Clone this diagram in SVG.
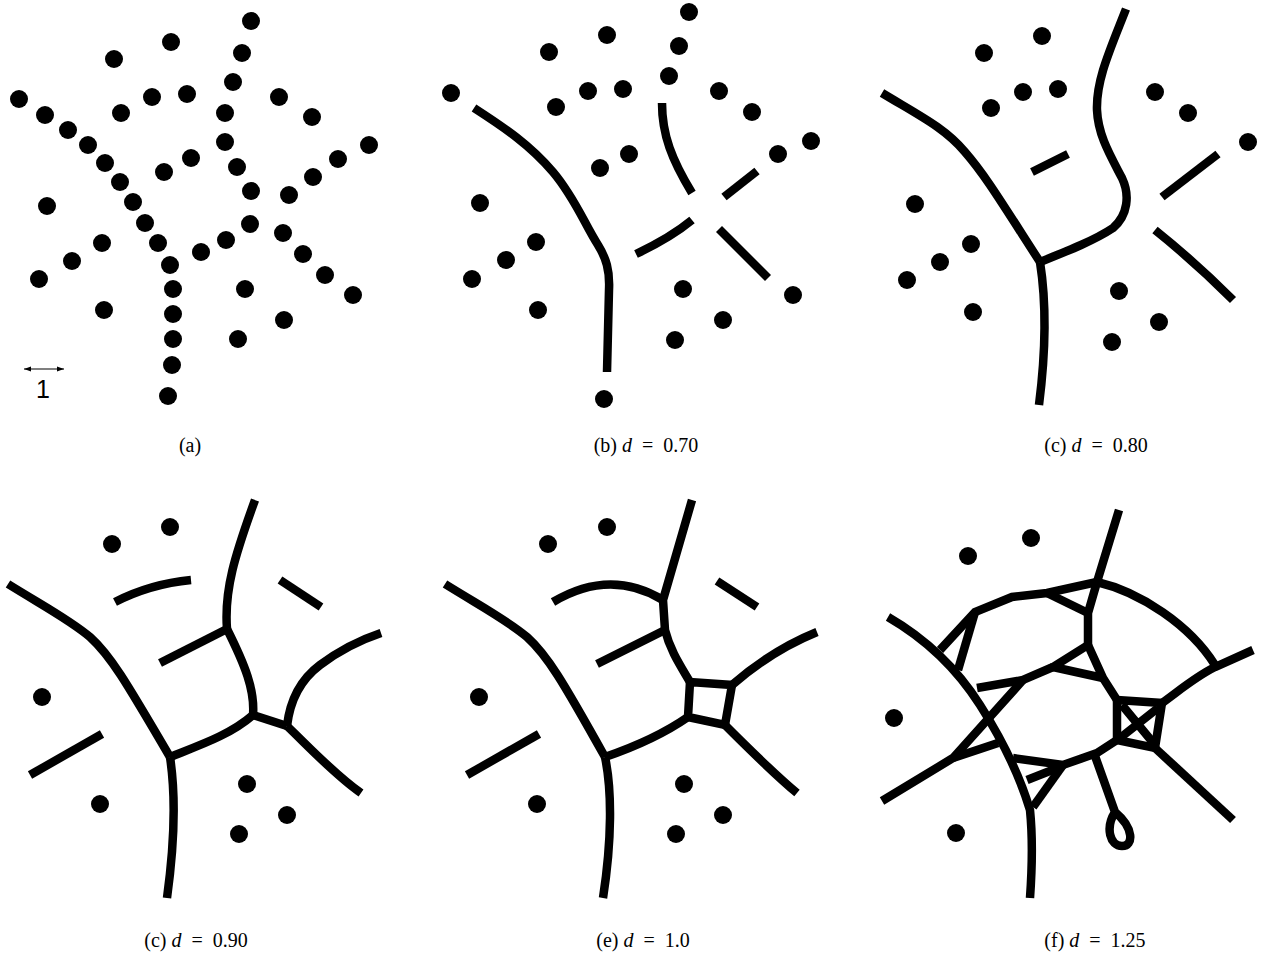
<svg xmlns="http://www.w3.org/2000/svg" width="1265" height="956" viewBox="0 0 1265 956">
<style>
.dot{fill:#000}
.e{fill:none;stroke:#000;stroke-width:8.5;stroke-linejoin:miter}
.cap{font-family:"Liberation Serif","Times New Roman",serif;font-size:20px;fill:#000}
.it{font-style:italic}
</style>
<defs>
<marker id="ah" viewBox="0 0 10 10" refX="10" refY="5" markerWidth="7" markerHeight="7" orient="auto-start-reverse" markerUnits="userSpaceOnUse"><path d="M0,1.5 L10,5 L0,8.5 Z" fill="#000"/></marker>
</defs>
<rect width="1265" height="956" fill="#fff"/>

<g id="panel-a">
<g class="dot">
<circle cx="251" cy="21" r="9"/><circle cx="171" cy="42" r="9"/><circle cx="114" cy="59" r="9"/><circle cx="242" cy="53" r="9"/><circle cx="233" cy="82" r="9"/>
<circle cx="19" cy="99" r="9"/><circle cx="152" cy="97" r="9"/><circle cx="187" cy="94" r="9"/><circle cx="279" cy="97" r="9"/><circle cx="45" cy="115" r="9"/>
<circle cx="121" cy="113" r="9"/><circle cx="225" cy="113" r="9"/><circle cx="312" cy="117" r="9"/><circle cx="68" cy="130" r="9"/><circle cx="88" cy="145" r="9"/>
<circle cx="225" cy="142" r="9"/><circle cx="369" cy="145" r="9"/><circle cx="191" cy="158" r="9"/><circle cx="338" cy="159" r="9"/><circle cx="105" cy="163" r="9"/>
<circle cx="164" cy="172" r="9"/><circle cx="237" cy="167" r="9"/><circle cx="120" cy="182" r="9"/><circle cx="313" cy="177" r="9"/><circle cx="251" cy="191" r="9"/>
<circle cx="289" cy="195" r="9"/><circle cx="47" cy="206" r="9"/><circle cx="133" cy="202" r="9"/><circle cx="145" cy="223" r="9"/><circle cx="250" cy="224" r="9"/>
<circle cx="283" cy="233" r="9"/><circle cx="226" cy="240" r="9"/><circle cx="102" cy="243" r="9"/><circle cx="158" cy="243" r="9"/><circle cx="201" cy="252" r="9"/>
<circle cx="303" cy="254" r="9"/><circle cx="72" cy="261" r="9"/><circle cx="170" cy="265" r="9"/><circle cx="39" cy="279" r="9"/><circle cx="325" cy="275" r="9"/>
<circle cx="173" cy="289" r="9"/><circle cx="245" cy="289" r="9"/><circle cx="353" cy="295" r="9"/><circle cx="104" cy="310" r="9"/><circle cx="173" cy="314" r="9"/>
<circle cx="284" cy="320" r="9"/><circle cx="173" cy="339" r="9"/><circle cx="238" cy="339" r="9"/><circle cx="172" cy="365" r="9"/><circle cx="168" cy="396" r="9"/>
</g>
<line x1="24" y1="369" x2="64" y2="369" stroke="#000" stroke-width="1.2" marker-start="url(#ah)" marker-end="url(#ah)"/>
<text x="43" y="398" text-anchor="middle" font-family="Liberation Sans, Arial, sans-serif" font-size="25">1</text>
<text class="cap" x="190" y="452" text-anchor="middle">(a)</text>
</g>

<g id="panel-b">
<g class="dot">
<circle cx="689" cy="12" r="9"/><circle cx="607" cy="35" r="9"/><circle cx="549" cy="52" r="9"/><circle cx="679" cy="46" r="9"/><circle cx="669" cy="76" r="9"/>
<circle cx="451" cy="93" r="9"/><circle cx="588" cy="91" r="9"/><circle cx="623" cy="89" r="9"/><circle cx="719" cy="91" r="9"/><circle cx="556" cy="107" r="9"/>
<circle cx="752" cy="112" r="9"/><circle cx="811" cy="141" r="9"/><circle cx="778" cy="154" r="9"/><circle cx="629" cy="154" r="9"/><circle cx="600" cy="168" r="9"/>
<circle cx="480" cy="203" r="9"/><circle cx="536" cy="242" r="9"/><circle cx="506" cy="260" r="9"/><circle cx="472" cy="279" r="9"/><circle cx="538" cy="310" r="9"/>
<circle cx="683" cy="289" r="9"/><circle cx="793" cy="295" r="9"/><circle cx="723" cy="320" r="9"/><circle cx="675" cy="340" r="9"/><circle cx="604" cy="399" r="9"/>
</g>
<path class="e" d="M474,108 C505,128 530,145 553,172 C575,198 585,225 598,245 C606,258 610,270 609,290 L607,372"/>
<path class="e" d="M662,103 C662,135 672,160 692,193"/>
<path class="e" d="M724,197 L757,171"/>
<path class="e" d="M636,254 C655,245 675,234 692,220"/>
<path class="e" d="M719,229 L768,278"/>
<text class="cap" x="646" y="452" text-anchor="middle" xml:space="preserve">(b) <tspan class="it">d</tspan>  =  0.70</text>
</g>

<g id="panel-c1">
<g class="dot">
<circle cx="1042" cy="36" r="9"/><circle cx="984" cy="53" r="9"/><circle cx="1023" cy="92" r="9"/><circle cx="1058" cy="89" r="9"/><circle cx="991" cy="108" r="9"/>
<circle cx="1155" cy="92" r="9"/><circle cx="1188" cy="113" r="9"/><circle cx="1248" cy="142" r="9"/><circle cx="915" cy="204" r="9"/><circle cx="971" cy="244" r="9"/>
<circle cx="940" cy="262" r="9"/><circle cx="907" cy="280" r="9"/><circle cx="973" cy="312" r="9"/><circle cx="1119" cy="291" r="9"/><circle cx="1159" cy="322" r="9"/>
<circle cx="1112" cy="342" r="9"/>
</g>
<path class="e" d="M882,93 C920,116 945,128 965,152 C985,175 1000,200 1040,262"/>
<path class="e" d="M1040,262 C1046,300 1046,350 1039,405"/>
<path class="e" d="M1040,262 C1070,250 1095,240 1113,228 C1128,215 1130,195 1122,178 C1110,155 1098,135 1097,110 C1096,80 1110,50 1126,9"/>
<path class="e" d="M1032,172 L1068,154"/>
<path class="e" d="M1162,197 L1218,154"/>
<path class="e" d="M1155,230 Q1195,262 1233,300"/>
<text class="cap" x="1096" y="452" text-anchor="middle" xml:space="preserve">(c) <tspan class="it">d</tspan>  =  0.80</text>
</g>

<g id="panel-c2">
<g class="dot">
<circle cx="112" cy="544" r="9"/><circle cx="170" cy="527" r="9"/><circle cx="42" cy="697" r="9"/><circle cx="100" cy="804" r="9"/>
<circle cx="247" cy="784" r="9"/><circle cx="287" cy="815" r="9"/><circle cx="239" cy="834" r="9"/>
</g>
<path class="e" d="M8,584 C45,607 70,620 90,637 C110,655 125,680 170,757"/>
<path class="e" d="M170,757 C175,790 175,840 167,898"/>
<path class="e" d="M170,757 C200,745 230,735 253,715"/>
<path class="e" d="M253,715 C255,690 245,665 227,629"/>
<path class="e" d="M227,629 C224,590 235,555 255,500"/>
<path class="e" d="M227,629 L160,663"/>
<path class="e" d="M253,715 L287,726"/>
<path class="e" d="M287,726 C290,700 300,680 320,665 C340,650 360,640 381,633"/>
<path class="e" d="M287,726 C310,748 335,775 361,793"/>
<path class="e" d="M115,602 Q150,584 191,580"/>
<path class="e" d="M280,580 L321,607"/>
<path class="e" d="M30,775 L102,734"/>
<text class="cap" x="196" y="947" text-anchor="middle" xml:space="preserve">(c) <tspan class="it">d</tspan>  =  0.90</text>
</g>

<g id="panel-e">
<g class="dot">
<circle cx="548" cy="544" r="9"/><circle cx="607" cy="527" r="9"/><circle cx="479" cy="697" r="9"/><circle cx="537" cy="804" r="9"/>
<circle cx="684" cy="784" r="9"/><circle cx="723" cy="815" r="9"/><circle cx="676" cy="834" r="9"/>
</g>
<path class="e" d="M445,584 C482,607 507,620 527,637 C547,655 562,680 605,757"/>
<path class="e" d="M605,757 C612,790 612,840 603,898"/>
<path class="e" d="M605,757 C640,745 665,733 688,717"/>
<path class="e" d="M688,717 L690,682 L732,685 L725,725 Z"/>
<path class="e" d="M690,682 C680,665 670,650 665,630 L663,600 L692,500"/>
<path class="e" d="M553,602 Q610,568 663,600"/>
<path class="e" d="M665,630 L597,664"/>
<path class="e" d="M732,685 C755,665 785,645 817,632"/>
<path class="e" d="M725,725 C750,750 775,775 797,793"/>
<path class="e" d="M717,581 L757,607"/>
<path class="e" d="M467,775 L539,734"/>
<text class="cap" x="643" y="947" text-anchor="middle" xml:space="preserve">(e) <tspan class="it">d</tspan>  =  1.0</text>
</g>

<g id="panel-f">
<g class="dot">
<circle cx="968" cy="556" r="9"/><circle cx="1031" cy="538" r="9"/><circle cx="894" cy="718" r="9"/><circle cx="956" cy="833" r="9"/>
</g>
<path class="e" d="M888,617 Q945,650 980,705 Q1015,760 1030,810 C1033,840 1032,870 1030,898"/>
<path class="e" d="M940,650 L975,612 L1012,597 L1047,593 L1097,582"/>
<path class="e" d="M975,612 L958,670"/>
<path class="e" d="M1119,510 L1097,582 L1088,613 L1088,645"/>
<path class="e" d="M1047,593 L1088,613"/>
<path class="e" d="M1097,582 C1140,592 1190,625 1215,665"/>
<path class="e" d="M1253,650 L1215,667 C1195,677 1180,690 1162,703"/>
<path class="e" d="M1117,700 L1162,703 L1155,748 L1117,740 Z"/>
<path class="e" d="M1122,705 L1155,745 M1158,708 L1120,738"/>
<path class="e" d="M1088,645 L1103,678 L1117,700"/>
<path class="e" d="M1088,645 L1053,667 L1103,678"/>
<path class="e" d="M1053,667 L1023,680 L977,688"/>
<path class="e" d="M1023,680 L953,758 L882,801"/>
<path class="e" d="M953,758 L998,743"/>
<path class="e" d="M1013,758 L1063,765 L1097,753 L1117,740"/>
<path class="e" d="M1063,765 L1033,807"/>
<path class="e" d="M1027,780 L1060,767"/>
<path class="e" d="M1095,756 L1115,812 C1105,828 1110,846 1122,846 C1134,846 1134,828 1115,812"/>
<path class="e" d="M1155,748 L1233,820"/>
<text class="cap" x="1095" y="947" text-anchor="middle" xml:space="preserve">(f) <tspan class="it">d</tspan>  =  1.25</text>
</g>
</svg>
